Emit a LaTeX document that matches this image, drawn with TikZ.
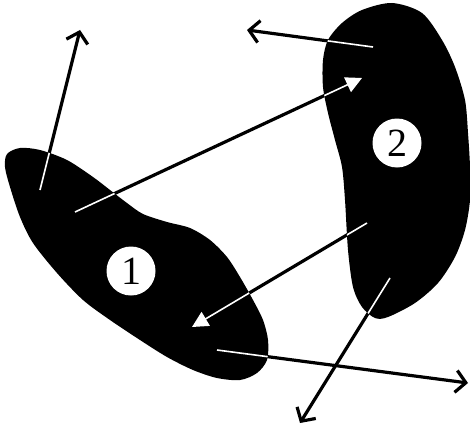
\documentclass[tikz,border=0pt]{standalone}
\usepackage{fontspec}
\setmainfont{Liberation Serif}
\usepackage{tikz}
\usetikzlibrary{arrows.meta}
\newcommand{\blobone}{plot[smooth cycle] coordinates {(7,154) (20,148) (40,150) (67,160) (93,177) (110,190) (127,203) (143,214) (167,222) (190,228) (210,240) (227,257) (240,277) (253,300) (263,320) (268,340) (267,360) (257,373) (240,380) (217,378) (193,370) (167,357) (140,340) (110,320) (83,300) (57,273) (33,243) (20,217) (10,187) (5,167)}}
\newcommand{\blobtwo}{plot[smooth cycle] coordinates {(392,3) (362,10) (342,23) (328,40) (323,60) (323,87) (328,113) (335,140) (342,167) (345,200) (348,250) (353,287) (362,307) (375,318) (388,317) (415,303) (438,283) (455,257) (465,230) (470,200) (470,167) (468,133) (465,100) (455,67) (442,40) (422,13)}}
\begin{document}
\begin{tikzpicture}[x=1pt,y=-1pt,
  label/.style={circle,fill=white,minimum size=49pt,inner sep=0pt,font=\fontsize{40}{40}\selectfont},
  outarrow/.style={-{Straight Barb[length=10pt,width=22pt,line width=3.2pt]}},
  inarrow/.style={-{Triangle[length=16pt,width=16pt]}}]
\useasboundingbox (0,0) rectangle (470,433);
% the two cells
\fill[black] \blobone;
\fill[black] \blobtwo;
\node[label] (one) at (131,271) {1};
\node[label] (two) at (397,143) {2};
% ends of the arrows
\coordinate (s1) at (40,190);   \coordinate (t1) at (80,30);
\coordinate (s2) at (75,212);   \coordinate (t2) at (362,78);
\coordinate (s3) at (373,47);   \coordinate (t3) at (247,30);
\coordinate (s4) at (367,223);  \coordinate (t4) at (192,327);
\coordinate (s5) at (217,350);  \coordinate (t5) at (468,383);
\coordinate (s6) at (390,278);  \coordinate (t6) at (300,423);
\begin{scope}[line width=3.2pt]
\draw[outarrow] (s1)--(t1);
\draw[inarrow] (s2)--(t2);
\draw[outarrow] (s3)--(t3);
\draw[inarrow] (s4)--(t4);
\draw[outarrow] (s5)--(t5);
\draw[outarrow] (s6)--(t6);
\end{scope}
% white where the arrows lie on the cells
\begin{scope}
\clip \blobone \blobtwo;
\draw[white,line width=1.6pt] (s1)--(t1);
\draw[white,line width=1.6pt,inarrow] (s2)--(t2);
\draw[white,line width=1.6pt] (s3)--(t3);
\draw[white,line width=1.6pt,inarrow] (s4)--(t4);
\draw[white,line width=1.6pt] (s5)--(t5);
\draw[white,line width=1.6pt] (s6)--(t6);
\end{scope}
\end{tikzpicture}
\end{document}
